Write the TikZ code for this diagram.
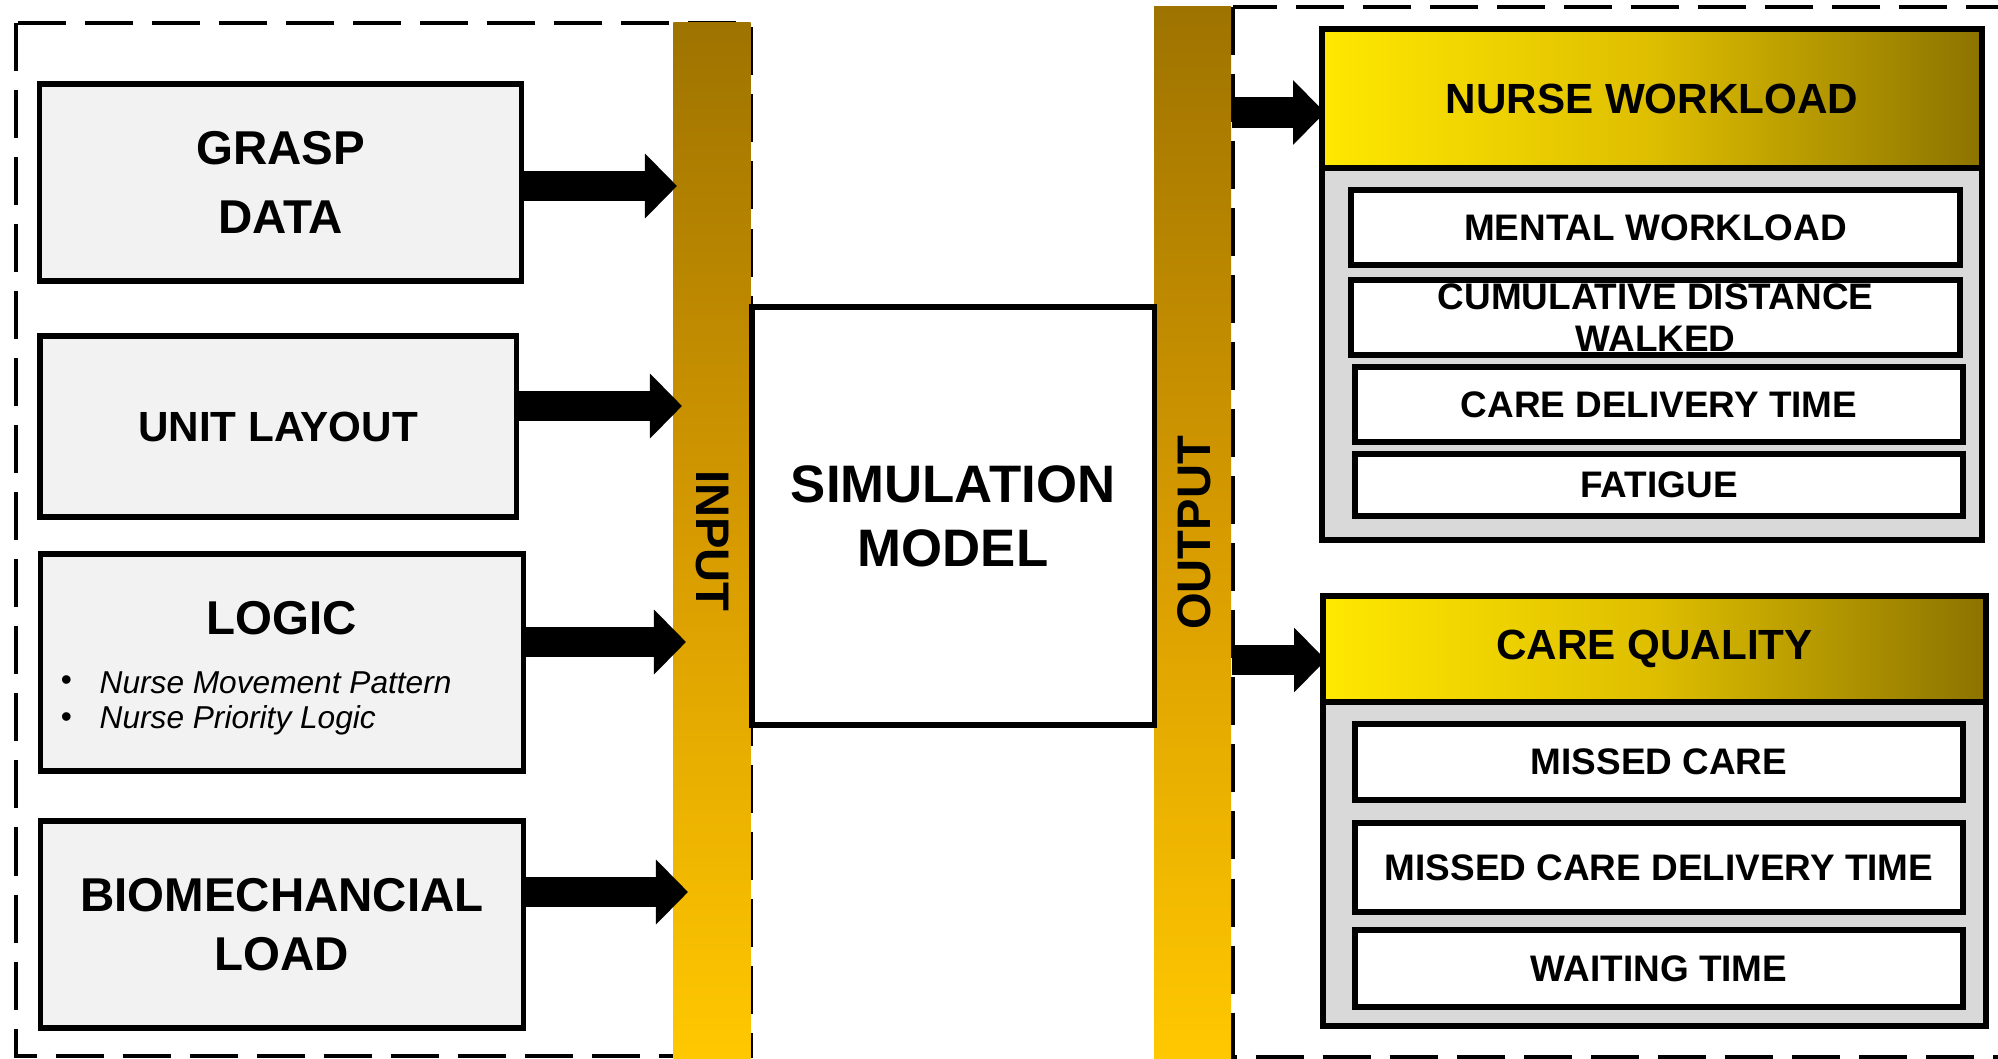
\documentclass[tikz,border=0pt]{standalone}
\usepackage{fontspec}
\setmainfont{Liberation Sans}
\usetikzlibrary{arrows.meta,calc}
\definecolor{barTop}{RGB}{158,115,0}
\definecolor{barMid}{RGB}{215,155,0}
\definecolor{barBot}{RGB}{255,200,0}
\definecolor{hdrL}{RGB}{255,232,0}
\definecolor{hdrM}{RGB}{222,190,0}
\definecolor{hdrR}{RGB}{140,115,0}
\definecolor{boxgray}{RGB}{242,242,242}
\definecolor{contgray}{RGB}{217,217,217}
\begin{document}
\begin{tikzpicture}[x=0.01cm,y=-0.01cm,
  region/.style={draw=black, line width=1.4pt, dash pattern=on 0.48cm off 0.19cm},
  lbox/.style={draw=black, line width=1.5pt, fill=boxgray, align=center, inner sep=0pt,
    font=\bfseries\fontsize{13.5}{19}\selectfont},
  bar/.style={inner sep=0pt, top color=barTop, bottom color=barBot, middle color=barMid, minimum width=0.77cm},
  barlbl/.style={font=\bfseries\fontsize{13.4}{16}\selectfont, inner sep=0pt},
  simbox/.style={draw=black, line width=1.5pt, fill=white, align=center, inner sep=0pt,
    font=\bfseries\fontsize{15}{18.2}\selectfont},
  cont/.style={draw=black, line width=1.6pt, fill=contgray, inner sep=0pt},
  hdr/.style={draw=black, line width=1.6pt, left color=hdrL, right color=hdrR, middle color=hdrM,
    inner sep=0pt, font=\bfseries\fontsize{12}{14}\selectfont},
  ibox/.style={draw=black, line width=1.6pt, fill=white, align=center, inner sep=0pt,
    font=\bfseries\fontsize{10.5}{12}\selectfont},
  bullet/.style={anchor=west, inner sep=0pt, font=\itshape\fontsize{9}{10.5}\selectfont},
  bigarrow/.style={line width=0.30cm, -{Triangle[length=0.32cm,width=0.63cm]}}]

\useasboundingbox (0,0) rectangle (1998,1058);

% dashed regions
\draw[region] (16,23) rectangle (751,1056);
\draw[region] (1233,7) rectangle (2015,1057);

% bars
\node[bar, minimum height=10.35cm] (inbar) at (712,540.5) {};
\node[bar, minimum height=10.51cm] (outbar) at (1192.5,532.5) {};
\node[barlbl, rotate=-90] (inlbl) at (712,541) {INPUT};
\node[barlbl, rotate=90] (outlbl) at (1194,533) {OUTPUT};

% left boxes
\node[lbox, minimum width=4.81cm, minimum height=1.97cm] (grasp) at (280.5,182.5) {GRASP\\[0.5pt]DATA};
\node[lbox, minimum width=4.76cm, minimum height=1.81cm, font=\bfseries\fontsize{12}{14}\selectfont] (unit) at (278,426.5) {UNIT LAYOUT};
\node[lbox, minimum width=4.82cm, minimum height=2.17cm] (logic) at (282,662.5) {};
\node[font=\bfseries\fontsize{13.5}{16}\selectfont, inner sep=0pt] (logict) at (282,618) {LOGIC};
\node[bullet] (b1) at (60,683) {\textbullet};
\node[bullet] (l1) at (99,683) {Nurse Movement Pattern};
\node[bullet] (b2) at (60,720) {\textbullet};
\node[bullet] (l2) at (99,720) {Nurse Priority Logic};
\node[lbox, minimum width=4.82cm, minimum height=2.07cm, font=\bfseries\fontsize{13.5}{16.8}\selectfont] (bio) at (282,924.5) {BIOMECHANCIAL\\LOAD};

% simulation model
\node[simbox, minimum width=4.02cm, minimum height=4.18cm] (sim) at (953,516) {SIMULATION\\MODEL};

% right containers
\node[cont, minimum width=6.60cm, minimum height=5.11cm] (nwcont) at (1652,284.5) {};
\node[hdr, minimum width=6.60cm, minimum height=1.39cm] (nwhdr) at (1652,98.5) {NURSE WORKLOAD};
\node[ibox, minimum width=6.09cm, minimum height=0.75cm] (mental) at (1655.5,227.5) {MENTAL WORKLOAD};
\node[ibox, minimum width=6.09cm, minimum height=0.75cm] (cumul) at (1655.5,317.5) {};
\node[font=\bfseries\fontsize{10.5}{12}\selectfont, align=center, inner sep=0pt] (cumult) at (1655.5,318) {CUMULATIVE DISTANCE\\WALKED};
\node[ibox, minimum width=6.08cm, minimum height=0.75cm] (cdt) at (1659,404.5) {CARE DELIVERY TIME};
\node[ibox, minimum width=6.08cm, minimum height=0.62cm] (fat) at (1659,485) {FATIGUE};

\node[cont, minimum width=6.63cm, minimum height=4.30cm] (cqcont) at (1654.5,811) {};
\node[hdr, minimum width=6.63cm, minimum height=1.06cm] (cqhdr) at (1654.5,649) {CARE QUALITY};
\node[ibox, minimum width=6.08cm, minimum height=0.76cm] (missed) at (1659,762) {MISSED CARE};
\node[ibox, minimum width=6.08cm, minimum height=0.89cm] (mcdt) at (1659,867.5) {MISSED CARE DELIVERY TIME};
\node[ibox, minimum width=6.08cm, minimum height=0.77cm] (wait) at (1659,968.5) {WAITING TIME};

% arrows
\coordinate (t1) at (677,186);
\coordinate (t2) at (682,406);
\coordinate (t3) at (686,642);
\coordinate (t4) at (688,892);
\coordinate (t5) at (1325,112.5);
\coordinate (t6) at (1326,660);
\draw[bigarrow] (grasp.east |- t1) -- (t1);
\draw[bigarrow] (unit.east |- t2) -- (t2);
\draw[bigarrow] (logic.east |- t3) -- (t3);
\draw[bigarrow] (bio.east |- t4) -- (t4);
\draw[bigarrow] (outbar.east |- t5) -- (t5);
\draw[bigarrow] (outbar.east |- t6) -- (t6);
\end{tikzpicture}
\end{document}
